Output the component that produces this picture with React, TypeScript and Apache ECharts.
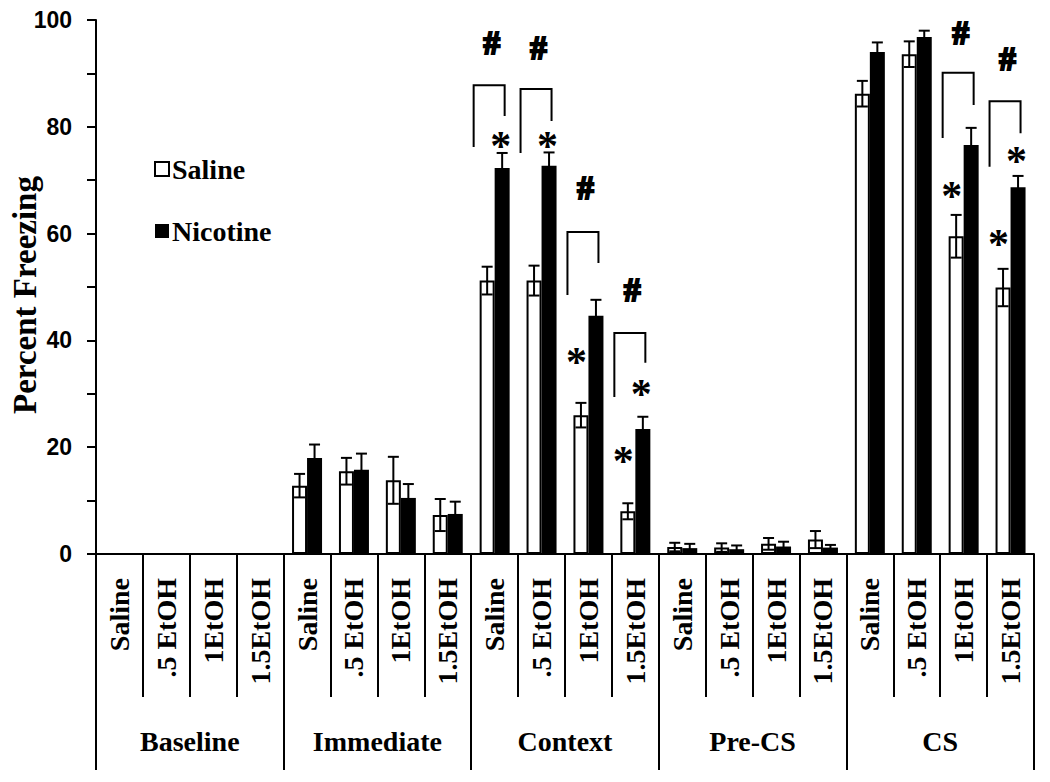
import React, { useEffect, useRef } from "react";
import * as echarts from "echarts";

const groups = ["Baseline", "Immediate", "Context", "Pre-CS", "CS"];
const doses = ["Saline", ".5 EtOH", "1EtOH", "1.5EtOH"];
const categories = groups.flatMap(() => doses);

const salineMean = [0, 0, 0, 0, 12.8, 15.5, 13.8, 7.3, 51.2, 51.2, 26.0, 8.0, 1.3, 1.2, 1.9, 2.7, 86.2, 93.6, 59.5, 49.9];
const salineErr = [0, 0, 0, 0, 2.2, 2.5, 4.4, 3.0, 2.6, 2.8, 2.3, 1.5, 0.8, 0.8, 1.1, 1.6, 2.4, 2.4, 4.0, 3.5];
const nicotineMean = [0, 0, 0, 0, 18.0, 15.8, 10.5, 7.5, 72.3, 72.7, 44.6, 23.4, 1.1, 0.9, 1.4, 1.2, 94.0, 96.8, 76.6, 68.7];
const nicotineErr = [0, 0, 0, 0, 2.5, 3.0, 2.6, 2.3, 2.8, 2.5, 3.0, 2.3, 0.8, 0.7, 0.9, 0.5, 1.8, 1.2, 3.2, 2.1];

// [category index, bar (0 saline, 1 nicotine), value]
const stars = [
  [8, 1, 78.0],
  [9, 1, 78.0],
  [10, 0, 37.6],
  [11, 0, 18.9],
  [11, 1, 31.6],
  [18, 0, 68.7],
  [19, 0, 59.7],
  [19, 1, 75.1],
];

// [category index, bracket top, left leg bottom, right leg bottom, # value]
const brackets = [
  [8, 87.8, 76.2, 82.0, 95.7],
  [9, 87.1, 75.1, 81.1, 94.8],
  [10, 60.3, 48.5, 54.5, 68.5],
  [11, 41.4, 29.4, 35.8, 49.4],
  [18, 90.1, 77.9, 84.1, 97.6],
  [19, 84.8, 72.5, 78.8, 92.7],
];

const SERIF = "Liberation Serif, Times New Roman, serif";
const SANS = "Liberation Sans, Arial, sans-serif";
const BAR_W = 15;

export default function App() {
  const ref = useRef<HTMLDivElement>(null);
  useEffect(() => {
    if (!ref.current) return;
    const chart = echarts.init(ref.current, null, { renderer: "svg" });

    const errData: number[][] = [];
    salineMean.forEach((m, i) => {
      if (salineErr[i] > 0) errData.push([i, m, salineErr[i], 0]);
    });
    nicotineMean.forEach((m, i) => {
      if (nicotineErr[i] > 0) errData.push([i, m, nicotineErr[i], 1]);
    });

    const option: any = {
      animation: false,
      backgroundColor: "#fff",
      grid: { left: 96, right: 16, top: 20, bottom: 228, containLabel: false },
      graphic: [
        {
          type: "text",
          x: 25,
          y: 295,
          rotation: Math.PI / 2,
          style: {
            text: "Percent Freezing",
            fontFamily: SERIF,
            fontWeight: "bold",
            fontSize: 33,
            fill: "#000",
            textAlign: "center",
            textVerticalAlign: "middle",
          },
        },
      ],
      legend: {
        data: ["Saline", "Nicotine"],
        orient: "vertical",
        left: 149,
        top: 150,
        itemWidth: 14,
        itemHeight: 14,
        itemGap: 34,
        icon: "rect",
        textStyle: { fontFamily: SERIF, fontWeight: "bold", fontSize: 28, color: "#000", padding: [0, 0, 0, -2] },
      },
      xAxis: [
        {
          type: "category",
          data: categories,
          axisLine: { show: true, lineStyle: { color: "#000", width: 2 } },
          axisTick: { show: true, interval: 0, length: 143, lineStyle: { color: "#000", width: 2 } },
          axisLabel: {
            interval: 0,
            rotate: 90,
            margin: 24,
            fontFamily: SERIF,
            fontWeight: "bold",
            fontSize: 28,
            color: "#000",
          },
          splitLine: { show: false },
        },
        {
          type: "category",
          data: groups,
          position: "bottom",
          axisLine: { show: false },
          axisTick: { show: true, interval: 0, length: 216, lineStyle: { color: "#000", width: 2 } },
          axisLabel: {
            interval: 0,
            margin: 173,
            fontFamily: SERIF,
            fontWeight: "bold",
            fontSize: 28,
            color: "#000",
          },
          splitLine: { show: false },
        },
      ],
      yAxis: {
        type: "value",
        min: 0,
        max: 100,
        interval: 10,
        axisLine: { show: true, lineStyle: { color: "#000", width: 2 } },
        axisTick: { show: true, length: 9, lineStyle: { color: "#000", width: 2 } },
        axisLabel: {
          margin: 24,
          fontFamily: SANS,
          fontWeight: "bold",
          fontSize: 23,
          color: "#000",
          formatter: (v: number) => (v % 20 === 0 ? String(v) : ""),
        },
        splitLine: { show: false },
      },
      series: [
        {
          name: "Saline",
          type: "bar",
          xAxisIndex: 0,
          data: salineMean,
          barWidth: BAR_W,
          barGap: "0%",
          itemStyle: { color: "#fff", borderColor: "#000", borderWidth: 2 },
        },
        {
          name: "Nicotine",
          type: "bar",
          xAxisIndex: 0,
          data: nicotineMean,
          barWidth: BAR_W,
          barGap: "0%",
          itemStyle: { color: "#000", borderColor: "#000", borderWidth: 0 },
        },
        {
          type: "custom",
          name: "err",
          xAxisIndex: 0,
          z: 5,
          data: errData,
          encode: { x: 0, y: 1 },
          renderItem: (params: any, api: any) => {
            const c = api.value(0);
            const m = api.value(1);
            const e = api.value(2);
            const side = api.value(3);
            const top = api.coord([c, m + e]);
            const bot = api.coord([c, Math.max(0, m - e)]);
            const x = top[0] + (side === 0 ? -BAR_W / 2 : BAR_W / 2);
            const cap = 5.5;
            const st = { stroke: "#000", lineWidth: 2 };
            return {
              type: "group",
              children: [
                { type: "line", shape: { x1: x, y1: top[1], x2: x, y2: bot[1] }, style: st },
                { type: "line", shape: { x1: x - cap, y1: top[1], x2: x + cap, y2: top[1] }, style: st },
                { type: "line", shape: { x1: x - cap, y1: bot[1], x2: x + cap, y2: bot[1] }, style: st },
              ],
            };
          },
        },
        {
          type: "custom",
          name: "stars",
          xAxisIndex: 0,
          z: 6,
          data: stars,
          encode: { x: 0, y: 2 },
          renderItem: (params: any, api: any) => {
            const c = api.value(0);
            const side = api.value(1);
            const v = api.value(2);
            const p = api.coord([c, v]);
            const fs = 42;
            return {
              type: "text",
              x: p[0] + (side === 0 ? -12 : 6),
              y: p[1] + fs * 0.2,
              style: {
                text: "*",
                fontFamily: SERIF,
                fontWeight: "bold",
                fontSize: fs,
                fill: "#000",
                textAlign: "center",
                textVerticalAlign: "middle",
              },
            };
          },
        },
        {
          type: "custom",
          name: "brackets",
          xAxisIndex: 0,
          z: 6,
          data: brackets,
          encode: { x: 0, y: 1 },
          renderItem: (params: any, api: any) => {
            const c = api.value(0);
            const t = api.coord([c, api.value(1)]);
            const lb = api.coord([c, api.value(2)]);
            const rb = api.coord([c, api.value(3)]);
            const h = api.coord([c, api.value(4)]);
            const xl = t[0] - 21;
            const xr = t[0] + 10;
            return {
              type: "group",
              children: [
                {
                  type: "polyline",
                  shape: { points: [[xl, lb[1]], [xl, t[1]], [xr, t[1]], [xr, rb[1]]] },
                  style: { stroke: "#000", lineWidth: 2, fill: "none" },
                },
                {
                  type: "text",
                  x: t[0] - 3,
                  y: h[1],
                  style: {
                    text: "#",
                    fontFamily: SERIF,
                    fontWeight: "bold",
                    fontSize: 33,
                    fill: "#000",
                    stroke: "#000",
                    lineWidth: 2.2,
                    textAlign: "center",
                    textVerticalAlign: "middle",
                  },
                },
              ],
            };
          },
        },
      ],
    };
    chart.setOption(option);
    return () => chart.dispose();
  }, []);
  return (
    <div
      ref={ref}
      style={{ position: "absolute", left: 0, top: 0, width: 1050, height: 782, background: "#fff" }}
    />
  );
}
